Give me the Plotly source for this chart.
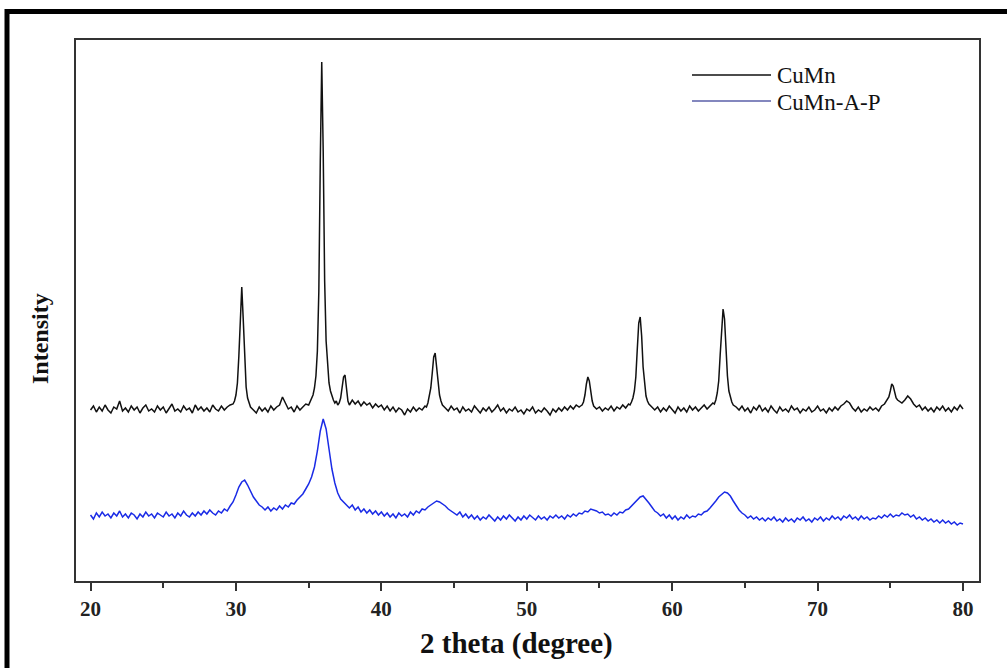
import plotly.graph_objects as go

# ---------------- data ----------------
cumn_two_theta = [
    20.0, 20.2, 20.4, 20.6, 20.8, 21.0, 21.2, 21.4, 21.6, 21.8,
    22.0, 22.2, 22.4, 22.6, 22.8, 23.0, 23.2, 23.4, 23.6, 23.8,
    24.0, 24.2, 24.4, 24.6, 24.8, 25.0, 25.2, 25.4, 25.6, 25.8,
    26.0, 26.2, 26.4, 26.6, 26.8, 27.0, 27.2, 27.4, 27.6, 27.8,
    28.0, 28.2, 28.4, 28.6, 28.8, 29.0, 29.2, 29.4, 29.6,
    29.8, 29.9, 30.0, 30.1, 30.2, 30.3, 30.4, 30.5, 30.6, 30.7, 30.8, 30.9, 31.0,
    31.2, 31.4, 31.6, 31.8, 32.0, 32.2, 32.4, 32.6, 32.8, 33.0,
    33.2, 33.4, 33.6, 33.8, 34.0, 34.2, 34.4, 34.6, 34.8, 35.0, 35.2,
    35.3, 35.4, 35.5, 35.6, 35.7, 35.8, 35.9, 36.0, 36.1, 36.2, 36.3, 36.4, 36.5,
    36.6, 36.7, 36.8, 36.9, 37.0, 37.1, 37.2, 37.3, 37.4, 37.5, 37.6, 37.7, 37.8,
    38.0, 38.2, 38.4, 38.6, 38.8, 39.0, 39.2, 39.4, 39.6, 39.8,
    40.0, 40.2, 40.4, 40.6, 40.8, 41.0, 41.2, 41.4, 41.6, 41.8,
    42.0, 42.2, 42.4, 42.6, 42.8, 43.0,
    43.1, 43.2, 43.3, 43.4, 43.5, 43.6, 43.7, 43.8, 43.9, 44.0, 44.1, 44.2,
    44.4, 44.6, 44.8, 45.0, 45.2, 45.4, 45.6, 45.8, 46.0, 46.2,
    46.4, 46.6, 46.8, 47.0, 47.2, 47.4, 47.6, 47.8, 48.0, 48.2,
    48.4, 48.6, 48.8, 49.0, 49.2, 49.4, 49.6, 49.8, 50.0, 50.2,
    50.4, 50.6, 50.8, 51.0, 51.2, 51.4, 51.6, 51.8, 52.0, 52.2,
    52.4, 52.6, 52.8, 53.0, 53.2, 53.4, 53.6,
    53.7, 53.8, 53.9, 54.0, 54.1, 54.2, 54.3, 54.4, 54.5,
    54.6, 54.8, 55.0, 55.2, 55.4, 55.6, 55.8, 56.0, 56.2, 56.4, 56.6, 56.8, 57.0,
    57.1, 57.2, 57.3, 57.4, 57.5, 57.6, 57.7, 57.8, 57.9, 58.0, 58.1, 58.2, 58.3, 58.4,
    58.6, 58.8, 59.0, 59.2, 59.4, 59.6, 59.8, 60.0, 60.2, 60.4,
    60.6, 60.8, 61.0, 61.2, 61.4, 61.6, 61.8, 62.0, 62.2, 62.4, 62.6, 62.8,
    62.9, 63.0, 63.1, 63.2, 63.3, 63.4, 63.5, 63.6, 63.7, 63.8, 63.9, 64.0, 64.1, 64.2,
    64.4, 64.6, 64.8, 65.0, 65.2, 65.4, 65.6, 65.8, 66.0, 66.2,
    66.4, 66.6, 66.8, 67.0, 67.2, 67.4, 67.6, 67.8, 68.0, 68.2,
    68.4, 68.6, 68.8, 69.0, 69.2, 69.4, 69.6, 69.8, 70.0, 70.2,
    70.4, 70.6, 70.8, 71.0, 71.2, 71.4, 71.6, 71.8, 72.0, 72.2,
    72.4, 72.6, 72.8, 73.0, 73.2, 73.4, 73.6, 73.8, 74.0, 74.2,
    74.4, 74.6,
    74.7, 74.8, 74.9, 75.0, 75.1, 75.2, 75.3, 75.4, 75.5,
    75.6, 75.8, 76.0, 76.2, 76.4, 76.6, 76.8, 77.0, 77.2, 77.4,
    77.6, 77.8, 78.0, 78.2, 78.4, 78.6, 78.8, 79.0, 79.2, 79.4,
    79.6, 79.8, 80.0,
]
cumn_intensity = [
    171, 175, 169, 174, 170, 176, 171, 168, 174, 172,
    180, 170, 173, 169, 175, 171, 174, 168, 173, 176,
    170, 172, 169, 175, 171, 174, 168, 173, 177, 170,
    172, 169, 175, 171, 173, 168, 176, 171, 174, 170,
    173, 169, 176, 172, 170, 175, 171, 174, 176,
    177, 180, 186, 198, 225, 268, 294, 262, 218, 194, 183, 177, 174,
    171, 168, 174, 170, 173, 169, 175, 171, 174, 176,
    184, 178, 172, 174, 169, 175, 171, 174, 177, 176, 182,
    186, 193, 205, 230, 290, 420, 519, 430, 300, 240, 212, 198, 190,
    184, 181, 178, 180, 176, 178, 183, 192, 204, 206, 190, 180, 176,
    181, 177, 180, 175, 179, 176, 178, 173, 177, 174,
    176, 171, 175, 170, 174, 169, 173, 171, 166, 172,
    169, 174, 170, 173, 171, 175,
    174, 178, 184, 193, 208, 224, 228, 215, 197, 186, 180, 176,
    173, 170, 175, 171, 173, 168, 174, 170, 172, 169,
    175, 171, 168, 173, 170, 174, 169, 172, 176, 170,
    173, 168, 172, 170, 174, 169, 171, 167, 172, 170,
    174, 168, 171, 169, 173, 170, 166, 172, 169, 173,
    170, 174, 171, 175, 172, 176, 174,
    175, 176, 179, 186, 197, 204, 200, 188, 180,
    175, 172, 174, 170, 173, 171, 175, 170, 174, 172, 176, 173, 177,
    176, 179, 183, 190, 204, 232, 258, 264, 245, 214, 195, 185, 180, 177,
    174, 171, 174, 169, 173, 170, 175, 171, 168, 174,
    170, 173, 169, 175, 171, 174, 170, 173, 176, 172, 175, 178,
    177, 181, 188, 200, 226, 255, 272, 262, 232, 205, 190, 183, 179, 176,
    174, 171, 175, 170, 173, 168, 174, 171, 176, 170,
    173, 169, 175, 171, 168, 174, 170, 172, 169, 175,
    171, 173, 168, 172, 170, 174, 169, 171, 175, 170,
    172, 168, 173, 170, 174, 171, 175, 177, 180, 178,
    173, 170, 174, 169, 172, 170, 174, 171, 173, 170,
    175, 177,
    179, 181, 184, 190, 197, 195, 188, 183, 181,
    180, 178, 181, 185, 182, 177, 174, 176, 171, 174,
    170, 173, 169, 174, 171, 175, 170, 173, 169, 174,
    171, 176, 172,
]

cumn_ap_two_theta = [
    20.0, 20.2, 20.4, 20.6, 20.8, 21.0, 21.2, 21.4, 21.6, 21.8,
    22.0, 22.2, 22.4, 22.6, 22.8, 23.0, 23.2, 23.4, 23.6, 23.8,
    24.0, 24.2, 24.4, 24.6, 24.8, 25.0, 25.2, 25.4, 25.6, 25.8,
    26.0, 26.2, 26.4, 26.6, 26.8, 27.0, 27.2, 27.4, 27.6, 27.8,
    28.0, 28.2, 28.4, 28.6, 28.8, 29.0, 29.2, 29.4, 29.6, 29.8,
    30.0, 30.2, 30.4, 30.6, 30.8, 31.0, 31.2, 31.4, 31.6, 31.8,
    32.0, 32.2, 32.4, 32.6, 32.8, 33.0, 33.2, 33.4, 33.6, 33.8,
    34.0, 34.2, 34.4, 34.6, 34.8, 35.0, 35.2, 35.4, 35.6, 35.8,
    36.0, 36.2, 36.4, 36.6, 36.8, 37.0, 37.2, 37.4, 37.6, 37.8,
    38.0, 38.2, 38.4, 38.6, 38.8, 39.0, 39.2, 39.4, 39.6, 39.8,
    40.0, 40.2, 40.4, 40.6, 40.8, 41.0, 41.2, 41.4, 41.6, 41.8,
    42.0, 42.2, 42.4, 42.6, 42.8, 43.0, 43.2, 43.4, 43.6, 43.8,
    44.0, 44.2, 44.4, 44.6, 44.8, 45.0, 45.2, 45.4, 45.6, 45.8,
    46.0, 46.2, 46.4, 46.6, 46.8, 47.0, 47.2, 47.4, 47.6, 47.8,
    48.0, 48.2, 48.4, 48.6, 48.8, 49.0, 49.2, 49.4, 49.6, 49.8,
    50.0, 50.2, 50.4, 50.6, 50.8, 51.0, 51.2, 51.4, 51.6, 51.8,
    52.0, 52.2, 52.4, 52.6, 52.8, 53.0, 53.2, 53.4, 53.6, 53.8,
    54.0, 54.2, 54.4, 54.6, 54.8, 55.0, 55.2, 55.4, 55.6, 55.8,
    56.0, 56.2, 56.4, 56.6, 56.8, 57.0, 57.2, 57.4, 57.6, 57.8,
    58.0, 58.2, 58.4, 58.6, 58.8, 59.0, 59.2, 59.4, 59.6, 59.8,
    60.0, 60.2, 60.4, 60.6, 60.8, 61.0, 61.2, 61.4, 61.6, 61.8,
    62.0, 62.2, 62.4, 62.6, 62.8, 63.0, 63.2, 63.4, 63.6, 63.8,
    64.0, 64.2, 64.4, 64.6, 64.8, 65.0, 65.2, 65.4, 65.6, 65.8,
    66.0, 66.2, 66.4, 66.6, 66.8, 67.0, 67.2, 67.4, 67.6, 67.8,
    68.0, 68.2, 68.4, 68.6, 68.8, 69.0, 69.2, 69.4, 69.6, 69.8,
    70.0, 70.2, 70.4, 70.6, 70.8, 71.0, 71.2, 71.4, 71.6, 71.8,
    72.0, 72.2, 72.4, 72.6, 72.8, 73.0, 73.2, 73.4, 73.6, 73.8,
    74.0, 74.2, 74.4, 74.6, 74.8, 75.0, 75.2, 75.4, 75.6, 75.8,
    76.0, 76.2, 76.4, 76.6, 76.8, 77.0, 77.2, 77.4, 77.6, 77.8,
    78.0, 78.2, 78.4, 78.6, 78.8, 79.0, 79.2, 79.4, 79.6, 79.8,
    80.0,
]
cumn_ap_intensity = [
    66, 62, 68, 64, 69, 65, 67, 63, 68, 65,
    70, 64, 67, 63, 68, 66, 62, 67, 64, 69,
    65, 67, 63, 68, 66, 64, 69, 65, 67, 63,
    68, 65, 70, 66, 64, 68, 65, 69, 66, 70,
    67, 71, 68, 66, 70, 68, 72, 70, 75, 79,
    86, 94, 99, 101, 96, 90, 84, 80, 76, 74,
    71, 74, 70, 73, 71, 75, 72, 76, 74, 78,
    77, 81, 84, 87, 92, 97, 104, 114, 130, 150,
    162, 152, 132, 112, 98, 88, 82, 79, 75, 73,
    76, 71, 74, 69, 72, 68, 71, 67, 70, 66,
    69, 65, 68, 64, 67, 63, 68, 65, 67, 64,
    69, 66, 70, 68, 72, 71, 74, 76, 78, 80,
    79, 77, 75, 72, 70, 68, 66, 69, 64, 67,
    63, 66, 62, 65, 61, 64, 62, 66, 63, 60,
    64, 61, 65, 62, 66, 63, 60, 64, 61, 65,
    62, 66, 63, 61, 65, 62, 64, 61, 65, 63,
    66, 63, 65, 62, 66, 64, 67, 65, 68, 67,
    70, 69, 72, 71, 70, 68, 69, 66, 67, 65,
    68, 66, 69, 68, 71, 72, 75, 78, 81, 84,
    85, 82, 78, 74, 70, 68, 65, 67, 63, 66,
    62, 65, 61, 64, 62, 66, 63, 65, 64, 67,
    66, 69, 70, 73, 76, 80, 84, 87, 89, 88,
    85, 80, 75, 71, 68, 66, 63, 65, 62, 64,
    61, 63, 60, 63, 61, 64, 60, 62, 59, 63,
    60, 62, 59, 63, 61, 64, 60, 62, 59, 63,
    61, 64, 60, 63, 61, 65, 62, 64, 61, 65,
    63, 66, 62, 64, 61, 65, 62, 64, 61, 63,
    62, 65, 63, 66, 64, 67, 64, 66, 65, 68,
    66, 67, 64, 66, 62, 64, 61, 63, 60, 62,
    59, 61, 58, 61, 58, 60, 57, 59, 56, 58,
    57,
]

series_names = ["CuMn", "CuMn-A-P"]
series_colors = ["#111111", "#1a2be6"]
legend_sample_colors = ["#111111", "#5a5fa8"]
x_tick_values = [20, 30, 40, 50, 60, 70, 80]
x_tick_labels = ["20", "30", "40", "50", "60", "70", "80"]
x_title = "2 theta (degree)"
y_title = "Intensity"

assert len(cumn_two_theta) == len(cumn_intensity)
assert len(cumn_ap_two_theta) == len(cumn_ap_intensity)

# ---------------- figure ----------------
W, H = 1007, 668
L, R, T, B = 76, 28, 40, 87
pw, ph = W - L - R, H - T - B


def px(xp):
    return (xp - L) / pw


def py(yp):
    return (H - B - yp) / ph


SERIF = "Liberation Serif, Times New Roman, serif"

fig = go.Figure()
fig.add_trace(go.Scatter(x=cumn_two_theta, y=cumn_intensity, mode="lines",
                         name=series_names[0], showlegend=False,
                         line=dict(color=series_colors[0], width=1.5)))
fig.add_trace(go.Scatter(x=cumn_ap_two_theta, y=cumn_ap_intensity, mode="lines",
                         name=series_names[1], showlegend=False,
                         line=dict(color=series_colors[1], width=1.5)))

fig.update_layout(
    width=W, height=H,
    margin=dict(l=L, r=R, t=T, b=B, pad=0),
    paper_bgcolor="white", plot_bgcolor="white",
    showlegend=False,
)
fig.update_xaxes(
    range=[19.0, 81.1], tickvals=x_tick_values, ticktext=x_tick_labels,
    showgrid=False, zeroline=False,
    showline=True, linecolor="#333333", linewidth=2, mirror=True,
    ticks="outside", ticklen=8, tickwidth=2, tickcolor="#333333",
    minor=dict(ticks="outside", ticklen=5, tickwidth=2, tickcolor="#333333",
               dtick=5, tick0=25, showgrid=False),
    tickfont=dict(family=SERIF, size=21, color="#222222", weight="bold"),
)
fig.update_yaxes(
    range=[0, 541], showticklabels=False, ticks="",
    showgrid=False, zeroline=False,
    showline=True, linecolor="#333333", linewidth=2, mirror=True,
)

# axis titles
fig.add_annotation(text=x_title, xref="paper", yref="paper",
                   x=px(516), y=py(643), showarrow=False,
                   xanchor="center", yanchor="middle",
                   font=dict(family=SERIF, size=29, color="#111111", weight="bold"))
fig.add_annotation(text=y_title, xref="paper", yref="paper",
                   x=px(40), y=py(339), showarrow=False, textangle=-90,
                   xanchor="center", yanchor="middle",
                   font=dict(family=SERIF, size=24, color="#111111", weight="bold"))

# legend (drawn by hand to match the long sample lines)
legend_rows = [75, 101]
for name, color, yrow in zip(series_names, legend_sample_colors, legend_rows):
    fig.add_shape(type="line", xref="paper", yref="paper",
                  x0=px(692), x1=px(771), y0=py(yrow), y1=py(yrow),
                  line=dict(color=color, width=1.3))
    fig.add_annotation(text=name, xref="paper", yref="paper",
                       x=px(775), y=py(yrow + 1), showarrow=False,
                       xanchor="left", yanchor="middle",
                       font=dict(family=SERIF, size=23, color="#111111"))

# outer picture border (thick black frame, open at the right/bottom edges)
fig.add_shape(type="rect", xref="paper", yref="paper",
              x0=px(7), x1=px(1015), y0=py(676), y1=py(11.5),
              line=dict(color="black", width=5), fillcolor="rgba(0,0,0,0)",
              layer="above")

fig.write_html("out.html")
